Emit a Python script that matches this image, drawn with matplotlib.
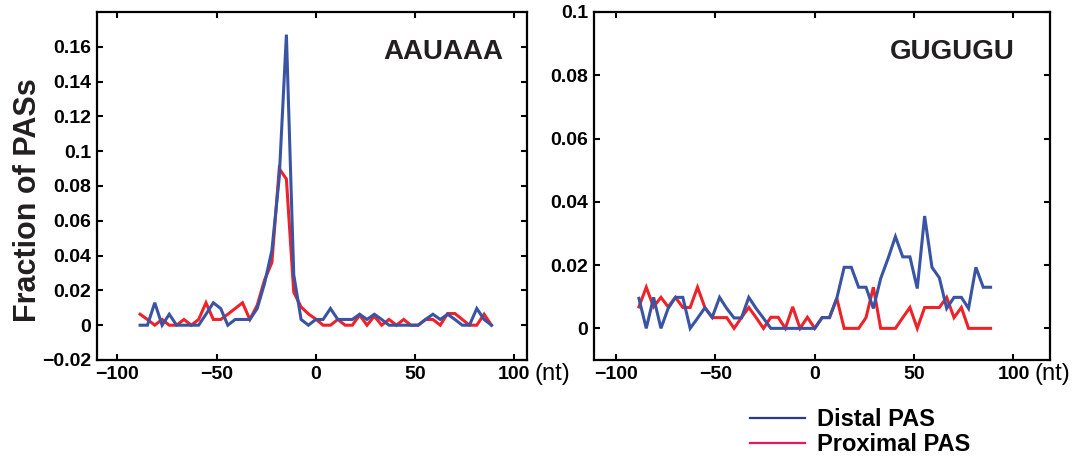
import matplotlib.pyplot as plt
from matplotlib.lines import Line2D

plt.rcParams['font.family'] = ['Liberation Sans', 'DejaVu Sans']

# position relative to cleavage site (nt), 49 bins
pos = [-88.5, -84.8, -81.1, -77.4, -73.8, -70.1, -66.4, -62.7, -59.0, -55.3,
       -51.6, -47.9, -44.3, -40.6, -36.9, -33.2, -29.5, -25.8, -22.1, -18.4,
       -14.8, -11.1, -7.4, -3.7, 0.0, 3.7, 7.4, 11.1, 14.8, 18.4,
       22.1, 25.8, 29.5, 33.2, 36.9, 40.6, 44.3, 47.9, 51.6, 55.3,
       59.0, 62.7, 66.4, 70.1, 73.8, 77.4, 81.1, 84.8, 88.5]

# AAUAAA
aau_distal = [0, 0, 0.0129, 0, 0.0063, 0, 0, 0, 0, 0.0063,
              0.0129, 0.0096, 0, 0.0033, 0.0033, 0.0033, 0.0096, 0.024, 0.043, 0.085,
              0.167, 0.029, 0.0033, 0, 0.0033, 0.0033, 0.0096, 0.0033, 0.0033, 0.0033,
              0.0063, 0.0033, 0.0063, 0.0033, 0, 0, 0, 0, 0, 0.0033,
              0.0063, 0.0033, 0.0063, 0.0033, 0, 0, 0.0096, 0.0033, 0]
aau_proximal = [0.0063, 0.0033, 0, 0.0033, 0, 0, 0.0033, 0, 0.0033, 0.0129,
                0.0033, 0.0033, 0.0063, 0.0096, 0.0129, 0.0033, 0.0115, 0.026, 0.036, 0.09,
                0.084, 0.019, 0.0105, 0.0065, 0.0035, 0, 0, 0.0033, 0, 0,
                0.0058, 0, 0.0052, 0, 0.0033, 0, 0.0033, 0, 0, 0.0033,
                0.0033, 0, 0.0067, 0.0067, 0.0033, 0, 0, 0.0063, 0]

# GUGUGU
gug_distal = [0.0095, 0, 0.0098, 0, 0.0063, 0.0098, 0.0098, 0, 0.0032, 0.0065,
              0.0035, 0.0098, 0.0063, 0.0033, 0.0033, 0.0098, 0.0063, 0.0032, 0, 0,
              0, 0, 0, 0, 0, 0.0034, 0.0034, 0.0095, 0.0193, 0.0193,
              0.013, 0.013, 0.0063, 0.0158, 0.0221, 0.029, 0.0226, 0.0226, 0.0126, 0.0355,
              0.0193, 0.016, 0.0063, 0.0098, 0.0098, 0.0063, 0.0193, 0.013, 0.013]
gug_proximal = [0.0068, 0.013, 0.0068, 0.0098, 0.0068, 0.0098, 0.0066, 0.0066, 0.013, 0.0066,
                0.0034, 0.0034, 0.0034, 0, 0.0034, 0.0066, 0.0034, 0, 0.0035, 0.0035,
                0, 0.0068, 0, 0.0035, 0, 0.0034, 0.0034, 0.0095, 0, 0,
                0, 0.0034, 0.013, 0, 0, 0, 0.0034, 0.0066, 0, 0.0066,
                0.0066, 0.0066, 0.0098, 0.0034, 0.0066, 0, 0, 0, 0]

x_ticks = [-100, -50, 0, 50, 100]
aau_yticks = [-0.02, 0, 0.02, 0.04, 0.06, 0.08, 0.1, 0.12, 0.14, 0.16]
gug_yticks = [0, 0.02, 0.04, 0.06, 0.08, 0.1]

BLUE = '#3a54a4'
RED = '#ee2229'

W, H = 1075, 457
fig = plt.figure(figsize=(W / 100, H / 100), dpi=100)

def box(l, t, r, b):
    return [l / W, 1 - b / H, (r - l) / W, (b - t) / H]

ax1 = fig.add_axes(box(97, 12, 527, 360))
ax2 = fig.add_axes(box(594, 12, 1050, 360))

def lab(v):
    return f'{v:g}'.replace('-', '\u2212')

panels = [
    (ax1, aau_distal, aau_proximal, aau_yticks, (-110.2, 106.4), (-0.02, 0.18), 'AAUAAA', (64, 0.157)),
    (ax2, gug_distal, gug_proximal, gug_yticks, (-111.1, 118.4), (-0.01, 0.1), 'GUGUGU', (69, 0.0873)),
]

for ax, dist, prox, yt, xl, yl, motif, tpos in panels:
    ax.plot(pos, prox, color=RED, lw=2.2, solid_joinstyle='miter')
    ax.plot(pos, dist, color=BLUE, lw=2.2, solid_joinstyle='miter')
    ax.set_xlim(*xl)
    ax.set_ylim(*yl)
    ax.set_xticks(x_ticks)
    ax.set_xticklabels([lab(v) for v in x_ticks])
    ax.set_yticks(yt)
    ax.set_yticklabels([lab(v) for v in yt])
    ax.tick_params(direction='in', top=True, right=True, length=4, width=1.5,
                   labelsize=14, pad=4)
    for t in ax.get_xticklabels() + ax.get_yticklabels():
        t.set_fontweight('bold')
    for s in ax.spines.values():
        s.set_linewidth(1.6)
    ax.text(tpos[0], tpos[1], motif, ha='center', va='center',
            fontsize=20, fontweight='bold', color='#231f20')

fig.text(535 / W, 1 - 374 / H, '(nt)', ha='left', va='center', fontsize=17)
fig.text(1034 / W, 1 - 374 / H, '(nt)', ha='left', va='center', fontsize=17)

fig.text(28 / W, 1 - 200 / H, 'Fraction of PASs', rotation=90, ha='center',
         va='center', fontsize=22, fontweight='bold', color='#231f20')

handles = [Line2D([], [], color='#2b3990', lw=1.6),
           Line2D([], [], color='#e8195a', lw=1.6)]
fig.legend(handles, ['Distal PAS', 'Proximal PAS'], loc='upper left',
           bbox_to_anchor=(750 / W, 1 - 408 / H), frameon=False, borderpad=0,
           borderaxespad=0, handlelength=2.35, handletextpad=0.5,
           labelspacing=0.1, prop={'size': 17, 'weight': 'bold'})

fig.savefig('out.png', dpi=100)
